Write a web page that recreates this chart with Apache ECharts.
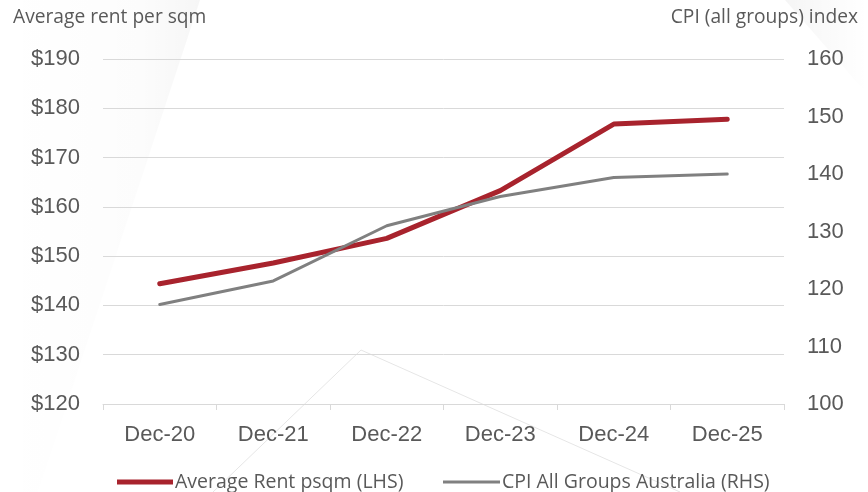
<!DOCTYPE html>
<html>
<head>
<meta charset="utf-8">
<script src="https://cdn.jsdelivr.net/npm/echarts@6/dist/echarts.min.js"></script>
<style>
  html, body { margin: 0; padding: 0; background: #ffffff; }
  #chart { width: 868px; height: 492px; }
</style>
</head>
<body>
<div id="chart"></div>
<script>
// Period labels (December of each year)
const categories = ['Dec-20', 'Dec-21', 'Dec-22', 'Dec-23', 'Dec-24', 'Dec-25'];
// Average rent per square metre, dollars (left axis)
const rentPsqm = [144.4, 148.6, 153.6, 163.3, 176.8, 177.8];
// CPI All Groups Australia index (right axis)
const cpiIndex = [117.3, 121.4, 131.0, 136.1, 139.4, 140.0];

const seriesNames = ['Average Rent psqm (LHS)', 'CPI All Groups Australia (RHS)'];
const leftAxisTitle = 'Average rent per sqm';
const rightAxisTitle = 'CPI (all groups) index';

const TITLE_FONT = 'Open Sans';
const AXIS_FONT = 'Liberation Sans';
const TEXT = '#595959';
const GRIDLINE = '#d9d9d9';
const RED = '#a8232d';
const GREY = '#808080';

const chart = echarts.init(document.getElementById('chart'));

const legendText = { fontFamily: TITLE_FONT, fontSize: 19.5, color: TEXT, padding: [0, 0, 0, -3] };

chart.setOption({
  backgroundColor: '#ffffff',
  animation: false,
  textStyle: { fontFamily: AXIS_FONT, color: TEXT },
  graphic: [
    // faint decorative backdrop shapes
    {
      type: 'polygon', silent: true, z: -10,
      shape: { points: [[0, 0], [200, 0], [38, 492], [0, 492]] },
      style: {
        fill: new echarts.graphic.LinearGradient(1, 0, 0, 0, [
          { offset: 0, color: 'rgba(0,0,0,0.035)' },
          { offset: 0.3, color: 'rgba(0,0,0,0.01)' },
          { offset: 1, color: 'rgba(0,0,0,0)' }
        ])
      }
    },
    {
      type: 'polygon', silent: true, z: -10,
      shape: { points: [[785, 0], [868, 0], [868, 95]] },
      style: {
        fill: new echarts.graphic.LinearGradient(0, 0, 1, 0, [
          { offset: 0, color: 'rgba(0,0,0,0.04)' },
          { offset: 1, color: 'rgba(0,0,0,0)' }
        ])
      }
    },
    {
      type: 'polyline', silent: true, z: -10,
      shape: { points: [[213, 492], [361, 350], [680, 492]] },
      style: { stroke: '#e6e6e6', lineWidth: 1, fill: null }
    },
    {
      type: 'text', left: 13, top: 8,
      style: { text: leftAxisTitle, fontFamily: TITLE_FONT, fontSize: 19.2, fill: TEXT }
    },
    {
      type: 'text', right: 10, top: 8,
      style: { text: rightAxisTitle, fontFamily: TITLE_FONT, fontSize: 19.2, fill: TEXT }
    }
  ],
  legend: [
    {
      left: 117, top: 472, padding: 0,
      icon: 'rect', itemWidth: 56, itemHeight: 5,
      textStyle: legendText,
      data: [seriesNames[0]]
    },
    {
      left: 443, top: 472, padding: 0,
      icon: 'rect', itemWidth: 57, itemHeight: 3,
      textStyle: legendText,
      data: [seriesNames[1]]
    }
  ],
  grid: { left: 103, right: 84, top: 59, bottom: 88, containLabel: false },
  xAxis: {
    type: 'category',
    data: categories,
    boundaryGap: true,
    axisLine: { lineStyle: { color: GRIDLINE, width: 1 } },
    axisTick: { show: true, length: 6, lineStyle: { color: GRIDLINE } },
    axisLabel: { fontFamily: AXIS_FONT, fontSize: 22, color: TEXT, margin: 20 }
  },
  yAxis: [
    {
      type: 'value', min: 120, max: 190, interval: 10,
      axisLine: { show: false }, axisTick: { show: false },
      splitLine: { lineStyle: { color: GRIDLINE, width: 1 } },
      axisLabel: { fontFamily: AXIS_FONT, fontSize: 22, color: TEXT, margin: 23, formatter: v => '$' + v }
    },
    {
      type: 'value', min: 100, max: 160, interval: 10,
      axisLine: { show: false }, axisTick: { show: false },
      splitLine: { show: false },
      axisLabel: { fontFamily: AXIS_FONT, fontSize: 22, color: TEXT, margin: 23 }
    }
  ],
  series: [
    {
      name: seriesNames[0], type: 'line', yAxisIndex: 0, data: rentPsqm,
      symbol: 'none', z: 3,
      lineStyle: { color: RED, width: 5, cap: 'round', join: 'round' },
      itemStyle: { color: RED }
    },
    {
      name: seriesNames[1], type: 'line', yAxisIndex: 1, data: cpiIndex,
      symbol: 'none', z: 4,
      lineStyle: { color: GREY, width: 3, cap: 'round', join: 'round' },
      itemStyle: { color: GREY }
    }
  ]
});
</script>
</body>
</html>
